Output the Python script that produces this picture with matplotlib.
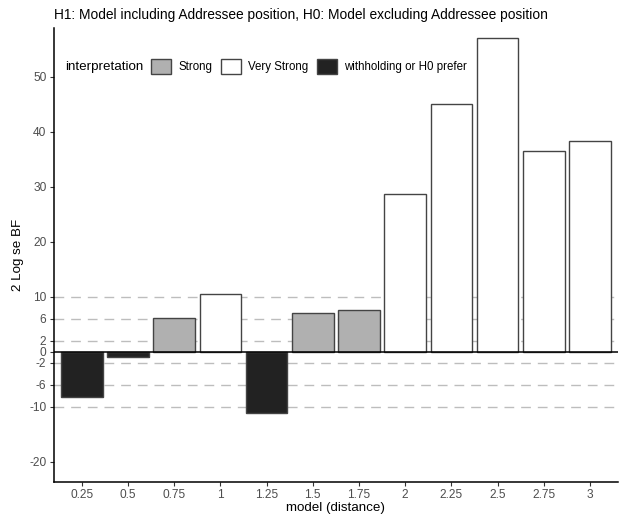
import matplotlib
matplotlib.use("Agg")
import matplotlib.pyplot as plt
from matplotlib.patches import Patch
import numpy as np

plt.rcParams["font.family"] = ["Liberation Sans", "DejaVu Sans"]

# data
models = ["0.25", "0.5", "0.75", "1", "1.25", "1.5", "1.75", "2", "2.25", "2.5", "2.75", "3"]
log_bf = [-8.2, -0.85, 6.1, 10.6, -11.1, 7.0, 7.7, 28.8, 45.0, 57.0, 36.5, 38.3]
interp = ["withholding or H0 prefer", "withholding or H0 prefer", "Strong", "Very Strong",
          "withholding or H0 prefer", "Strong", "Strong", "Very Strong", "Very Strong",
          "Very Strong", "Very Strong", "Very Strong"]
levels = ["Strong", "Very Strong", "withholding or H0 prefer"]
ref_lines = [-10, -6, -2, 2, 6, 10]
yticks = [-20, -10, -6, -2, 0, 2, 6, 10, 20, 30, 40, 50]

fill = {"Strong": "#B0B0B0", "Very Strong": "#FFFFFF", "withholding or H0 prefer": "#222222"}
edge = "#444444"
tick_grey = "#4D4D4D"

fig = plt.figure(figsize=(6.22, 5.15), dpi=100)
W, H = 622, 515
ax = fig.add_axes([54 / W, 1 - 481.7 / H, (617.7 - 54) / W, (481.7 - 28) / H])

x = np.arange(1, len(models) + 1)

for y in ref_lines:
    ax.axhline(y, color="#BDBDBD", lw=1.0, ls=(0, (7, 5)), zorder=1)

ax.bar(x, log_bf, width=0.9, color=[fill[c] for c in interp],
       edgecolor=edge, linewidth=1.0, zorder=2)
ax.axhline(0, color="black", lw=1.1, zorder=3)

ax.set_xlim(0.4, 12.6)
ax.set_ylim(-23.6, 58.9)
ax.set_xticks(x)
ax.set_xticklabels(models)
ax.set_yticks(yticks)
ax.set_yticklabels([str(v) for v in yticks])
ax.tick_params(axis="both", labelsize=8.6, labelcolor=tick_grey, color="#333333",
               length=3, width=0.8, pad=2.5)

for side in ["top", "right"]:
    ax.spines[side].set_visible(False)
for side in ["left", "bottom"]:
    ax.spines[side].set_color("black")
    ax.spines[side].set_linewidth(1.1)

ax.set_xlabel("model (distance)", fontsize=9.6, labelpad=0.5)
ax.set_ylabel("2 Log se BF", fontsize=9.6, labelpad=4)

fig.text(54 / W, 1 - 15 / H, "H1: Model including Addressee position, H0: Model excluding Addressee position",
         fontsize=9.95, va="center", ha="left")

# legend, title placed on the left as in ggplot
fig.text(65 / W, 1 - 67 / H, "interpretation", fontsize=9.6, va="center", ha="left")
handles = [Patch(facecolor=fill[k], edgecolor=edge, linewidth=1.0) for k in levels]
fig.legend(handles, levels, ncol=3, loc="center left", bbox_to_anchor=(151 / W, 1 - 66.5 / H),
           frameon=False, fontsize=8.3, handlelength=1.75, handleheight=1.75,
           handletextpad=0.6, columnspacing=0.75, borderaxespad=0, borderpad=0)

fig.savefig("out.png", dpi=100)
